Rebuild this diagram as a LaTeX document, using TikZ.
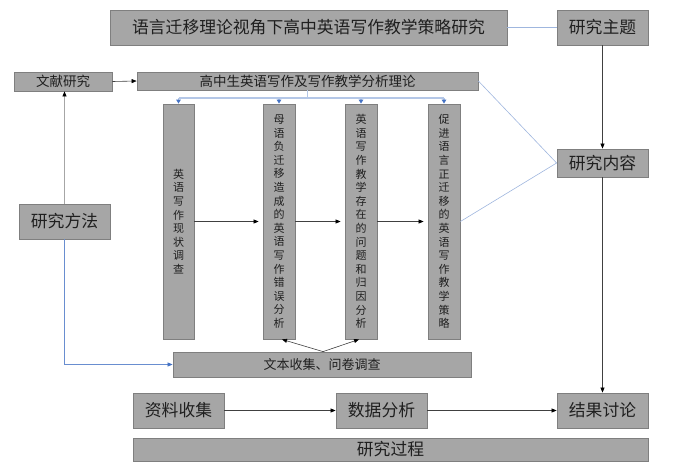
\documentclass[tikz,border=0pt]{standalone}
\usepackage{fontspec}
\setmainfont{Noto Sans CJK SC}
\usetikzlibrary{arrows.meta,calc}
\definecolor{boxfill}{HTML}{A6A6A6}
\definecolor{boxdraw}{HTML}{7F7F7F}
\definecolor{darkline}{HTML}{404040}
\definecolor{lightblue}{HTML}{9FB6DE}
\definecolor{bracketblue}{HTML}{B4C7E7}
\definecolor{tipblue}{HTML}{4472C4}
\definecolor{txt}{HTML}{1F1F1F}
\tikzset{
  gbox/.style={draw=boxdraw, fill=boxfill, line width=0.8pt, inner sep=0pt, text=txt, anchor=center},
  bigtxt/.style={font=\fontsize{16.8}{18}\selectfont},
  midtxt/.style={font=\fontsize{13.5}{15}\selectfont},
  smtxt/.style={font=\fontsize{13}{15}\selectfont},
  vtxt/.style={font=\fontsize{11}{13.6}\selectfont, align=center},
  darrow/.style={draw=darkline, line width=0.6pt, -{Triangle[length=5pt,width=4pt,color=black]}},
  blueln/.style={draw=lightblue, line width=0.6pt},
  barrow/.style={draw=bracketblue, line width=1.6pt, -{Triangle[length=4pt,width=4.5pt,color=tipblue]}},
  bline/.style={draw=bracketblue, line width=1.6pt},
  mblue/.style={draw=tipblue!80, line width=0.6pt, -{Triangle[length=5pt,width=4pt,color=tipblue]}},
  mgray/.style={draw=gray!70, line width=0.8pt, -{Triangle[length=5pt,width=4pt,color=black]}}
}
\begin{document}
\begin{tikzpicture}[x=1pt,y=-1pt]
\useasboundingbox (0,0) rectangle (699,475);
% nodes
\node[gbox,bigtxt,minimum width=397pt,minimum height=35pt] (title) at (308.5,27.5) {语言迁移理论视角下高中英语写作教学策略研究};
\node[gbox,bigtxt,minimum width=91pt,minimum height=35pt] (topic) at (602.5,27.5) {研究主题};
\node[gbox,midtxt,minimum width=98pt,minimum height=19pt] (lit) at (63,81.5) {文献研究};
\node[gbox,midtxt,minimum width=341pt,minimum height=18pt] (theory) at (307.5,81) {高中生英语写作及写作教学分析理论};
\node[gbox,vtxt,minimum width=31pt,minimum height=235pt] (b1) at (178.5,221.5) {英\\语\\写\\作\\现\\状\\调\\查};
\node[gbox,vtxt,minimum width=32pt,minimum height=235pt] (b2) at (279,221.5) {母\\语\\负\\迁\\移\\造\\成\\的\\英\\语\\写\\作\\错\\误\\分\\析};
\node[gbox,vtxt,minimum width=32pt,minimum height=235pt] (b3) at (361,221.5) {英\\语\\写\\作\\教\\学\\存\\在\\的\\问\\题\\和\\归\\因\\分\\析};
\node[gbox,vtxt,minimum width=32pt,minimum height=235pt] (b4) at (444,221.5) {促\\进\\语\\言\\正\\迁\\移\\的\\英\\语\\写\\作\\教\\学\\策\\略};
\node[gbox,bigtxt,minimum width=91pt,minimum height=28pt] (content) at (602.5,163) {研究内容};
\node[gbox,bigtxt,minimum width=91pt,minimum height=35pt] (method) at (64.5,221.5) {研究方法};
\node[gbox,smtxt,minimum width=298pt,minimum height=25pt] (textc) at (322,364.5) {文本收集、问卷调查};
\node[gbox,bigtxt,minimum width=91pt,minimum height=35pt] (collect) at (178.5,410.5) {资料收集};
\node[gbox,bigtxt,minimum width=91pt,minimum height=35pt] (analysis) at (381.5,410.5) {数据分析};
\node[gbox,bigtxt,minimum width=91pt,minimum height=35pt] (result) at (602.5,410.5) {结果讨论};
\node[gbox,bigtxt,minimum width=515pt,minimum height=23pt] (process) at (390.5,449.5) {研究过程};
% connectors
\draw[blueln] (title.east) -- (topic.west);
\draw[darrow] (topic.south) -- (content.north);
\draw[darrow] (content.south) -- (result.north);
\draw[darrow] (lit.east) -- (theory.west);
\draw[mgray] (method.north) -- (method.north |- lit.south);
\draw[mblue] (method.south) |- (textc.west);
% bracket
\coordinate (br) at (theory.south |- 0,98);
\draw[bline] (theory.south) -- (br);
\draw[bline] (b1.north |- br) -- (b4.north |- br);
\draw[barrow] (b1.north |- br) -- (b1.north);
\draw[barrow] (b2.north |- br) -- (b2.north);
\draw[barrow] (b3.north |- br) -- (b3.north);
\draw[barrow] (b4.north |- br) -- (b4.north);
% horizontal arrows between vertical boxes
\draw[darrow,shorten >=4pt] (b1.east) -- (b2.west);
\draw[darrow,shorten >=4pt] (b2.east) -- (b3.west);
\draw[darrow,shorten >=4pt] (b3.east) -- (b4.west);
% to research content
\draw[blueln] (theory.east) -- (content.west);
\draw[blueln] (b4.east) -- (content.west);
% text collection to boxes
\coordinate (apex) at ($(textc.north)+(1,0)$);
\draw[darrow] (apex) -- ($(b2.south)+(3,0)$);
\draw[darrow] (apex) -- ($(b3.south)+(-2,0)$);
% process row
\draw[darrow] (collect.east) -- (analysis.west);
\draw[darrow] (analysis.east) -- (result.west);
\end{tikzpicture}
\end{document}
